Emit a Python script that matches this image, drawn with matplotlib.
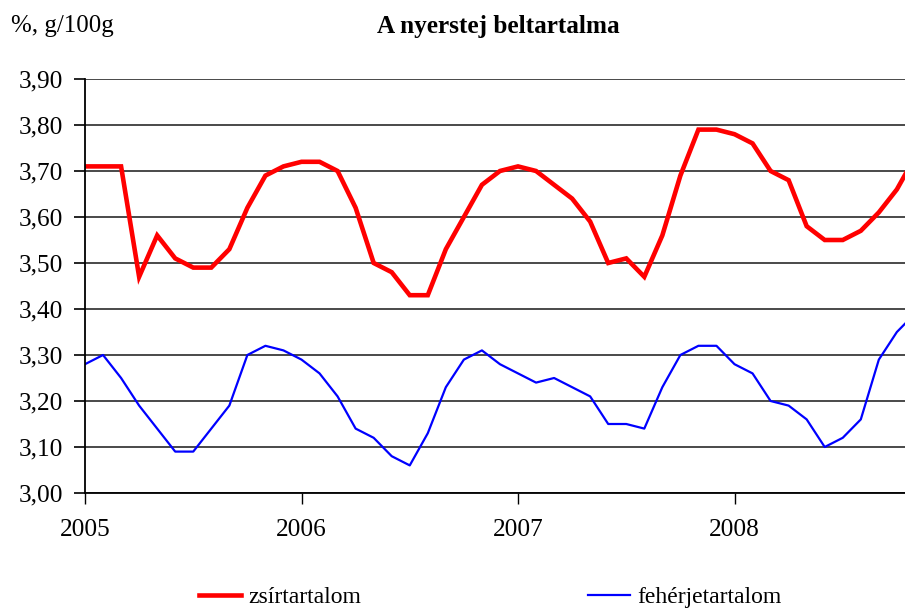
import numpy as np
import matplotlib
matplotlib.use("Agg")
import matplotlib.pyplot as plt
from matplotlib.ticker import FuncFormatter

plt.rcParams['font.family'] = ['Liberation Serif', 'DejaVu Serif']

# havi adatok, 2005 januartol
zsir = [3.71, 3.71, 3.71, 3.47, 3.56, 3.51, 3.49, 3.49, 3.53, 3.62, 3.69, 3.71,
        3.72, 3.72, 3.70, 3.62, 3.50, 3.48, 3.43, 3.43, 3.53, 3.60, 3.67, 3.70,
        3.71, 3.70, 3.67, 3.64, 3.59, 3.50, 3.51, 3.47, 3.56, 3.69, 3.79, 3.79,
        3.78, 3.76, 3.70, 3.68, 3.58, 3.55, 3.55, 3.57, 3.61, 3.66, 3.73]
feherje = [3.28, 3.30, 3.25, 3.19, 3.14, 3.09, 3.09, 3.14, 3.19, 3.30, 3.32, 3.31,
           3.29, 3.26, 3.21, 3.14, 3.12, 3.08, 3.06, 3.13, 3.23, 3.29, 3.31, 3.28,
           3.26, 3.24, 3.25, 3.23, 3.21, 3.15, 3.15, 3.14, 3.23, 3.30, 3.32, 3.32,
           3.28, 3.26, 3.20, 3.19, 3.16, 3.10, 3.12, 3.16, 3.29, 3.35, 3.39]
evek = ['2005', '2006', '2007', '2008']

honap = np.arange(len(zsir))
fs = 18.2

fig = plt.figure(figsize=(9.05, 6.08), dpi=100)
ax = fig.add_axes([85 / 905, 1 - 493 / 608, 820 / 905, 414 / 608])

ax.plot(honap, zsir, color='#FF0000', lw=3.3, label='zsírtartalom', solid_joinstyle='miter')
ax.plot(honap, feherje, color='#0000FF', lw=1.6, label='fehérjetartalom')

ax.set_ylim(3.0, 3.9)
ax.set_yticks(np.arange(3.0, 3.91, 0.1))
ax.yaxis.set_major_formatter(FuncFormatter(lambda v, p: f"{v:.2f}".replace('.', ',')))
ax.set_xlim(0, 45.45)
ax.set_xticks([0, 12, 24, 36])
ax.set_xticklabels(evek)

ax.grid(axis='y', color='#3a3a3a', lw=1.3)
ax.set_axisbelow(True)
for s in ['top', 'right']:
    ax.spines[s].set_visible(False)
ax.spines['left'].set_linewidth(1.3)
ax.spines['bottom'].set_linewidth(1.3)
ax.tick_params(axis='y', labelsize=fs, length=8, width=1.2, pad=8)
ax.tick_params(axis='x', labelsize=fs, length=8, width=1.0, pad=11)

fig.text(11 / 905, 1 - 26 / 608, '%, g/100g', fontsize=17.9, va='center', ha='left')
fig.text(498 / 905, 1 - 26 / 608, 'A nyerstej beltartalma', fontsize=fs,
         fontweight='bold', va='center', ha='center')

fig.legend(loc='center', bbox_to_anchor=(490 / 905, 1 - 597 / 608), ncol=2,
           frameon=False, fontsize=17, handlelength=1.8, handletextpad=0.3,
           columnspacing=9.6, borderpad=0)

fig.savefig('out.png', dpi=100)
